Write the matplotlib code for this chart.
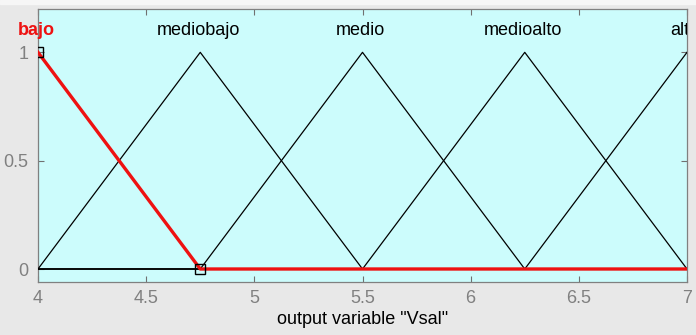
import matplotlib.pyplot as plt
import matplotlib.transforms as mtransforms
from matplotlib.patches import Rectangle

plt.rcParams['font.family'] = ['Liberation Sans', 'DejaVu Sans']

# membership functions (vertices of each trimf over the range 4..7)
names = ['bajo', 'mediobajo', 'medio', 'medioalto', 'alto']
peaks = [4, 4.75, 5.5, 6.25, 7]
mf_x = [[4, 4.75, 7],
        [4, 4.75, 5.5, 7],
        [4, 4.75, 5.5, 6.25, 7],
        [4, 5.5, 6.25, 7],
        [4, 6.25, 7]]
mf_y = [[1, 0, 0],
        [0, 1, 0, 0],
        [0, 0, 1, 0, 0],
        [0, 0, 1, 0],
        [0, 0, 1]]
selected = 0
xticks = [4, 4.5, 5, 5.5, 6, 6.5, 7]
yticks = [0, 0.5, 1]

fig = plt.figure(figsize=(6.96, 3.35), dpi=100, facecolor='#e8e8e8')
fig.add_artist(Rectangle((0, 1 - 4/335), 1, 4/335, transform=fig.transFigure,
                         color='#f6f6f6', zorder=0))
ax = fig.add_axes([38/696, 1 - 282/335, 649/696, 273/335])
ax.set_facecolor('#ccfcfc')

for i in range(len(names)):
    if i == selected:
        continue
    ax.plot(mf_x[i], mf_y[i], color='black', lw=0.9, zorder=3)
ax.plot(mf_x[selected], mf_y[selected], color='#ee1111', lw=2.4, zorder=4)
ax.plot([4, 4.75], [1, 0], ls='none', marker='s', ms=6.5, mfc='none',
        mec='black', mew=1, zorder=5, clip_on=True)

shift = ax.transData + mtransforms.ScaledTranslation(-2/100, 0, fig.dpi_scale_trans)
for i, n in enumerate(names):
    if i == selected:
        ax.text(peaks[i], 1.1, n, color='#ee1111', fontweight='bold',
                fontsize=13, ha='center', va='center', clip_on=False,
                transform=shift)
    else:
        ax.text(peaks[i], 1.1, n, color='black', fontsize=13,
                ha='center', va='center', clip_on=True, transform=shift)

ax.set_xlim(4, 7)
ax.set_ylim(-0.06, 1.2)
ax.set_xticks(xticks)
ax.set_xticklabels(['4', '4.5', '5', '5.5', '6', '6.5', '7'])
ax.set_yticks(yticks)
ax.set_yticklabels(['0', '0.5', '1'])
ax.tick_params(direction='in', length=4, top=True, right=True,
               color='#707070', labelcolor='#808080', labelsize=13, pad=6)
ax.tick_params(axis='y', pad=7)
for s in ax.spines.values():
    s.set_color('#808080')
    s.set_linewidth(0.9)
ax.set_xlabel('output variable "Vsal"', fontsize=13, color='black', labelpad=3)

fig.savefig('out.png', dpi=100, facecolor=fig.get_facecolor())
